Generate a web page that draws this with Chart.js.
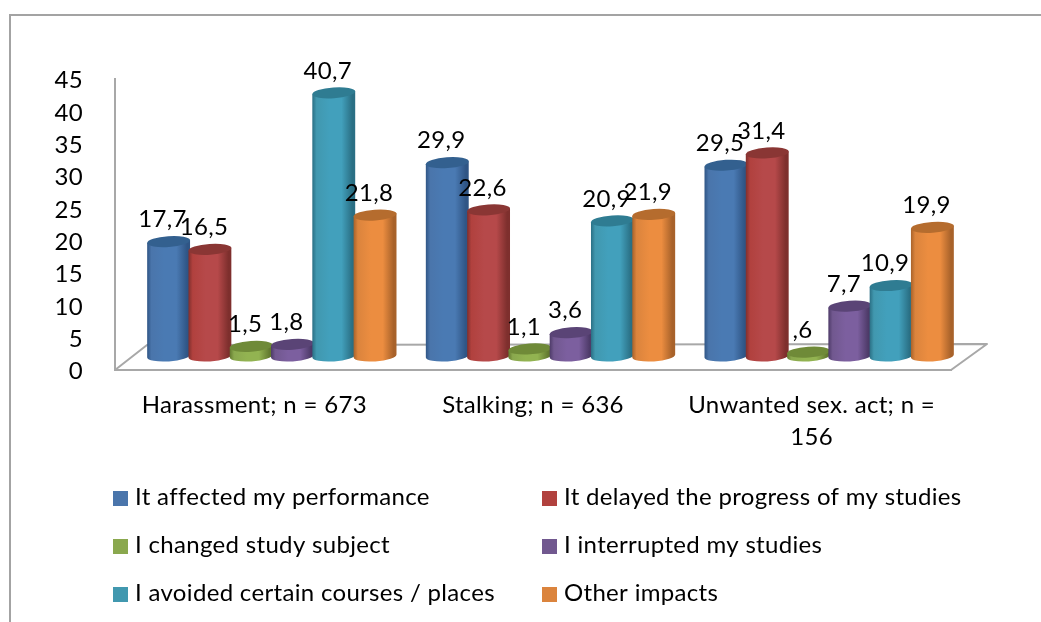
<!DOCTYPE html>
<html>
<head>
<meta charset="utf-8">
<style>html,body{margin:0;padding:0;background:#fff;overflow:hidden}canvas{display:block}</style>
<script src="https://cdn.jsdelivr.net/npm/chart.js@4"></script>
</head>
<body>
<canvas id="c" width="1041" height="622"></canvas>
<script>
const categories = ["Harassment; n = 673", "Stalking; n = 636", ["Unwanted sex. act; n =", "156"]];
const seriesNames = ["It affected my performance", "It delayed the progress of my studies", "I changed study subject", "I interrupted my studies", "I avoided certain courses / places", "Other impacts"];
const affected = [17.7, 29.9, 29.5];
const delayed = [16.5, 22.6, 31.4];
const changed = [1.5, 1.1, 0.6];
const interrupted = [1.8, 3.6, 7.7];
const avoided = [40.7, 20.9, 10.9];
const other = [21.8, 21.9, 19.9];
const seriesValues = [affected, delayed, changed, interrupted, avoided, other];
const legendColors = ["#4A75AB", "#B1413E", "#8AA84E", "#71588F", "#4198AF", "#DB843D"];
const edgeColors = ["#2F5585", "#7E2F2D", "#62792F", "#4D3A68", "#2A6F84", "#A8622A"];
const midColors = ["#4A7AB3", "#B6494A", "#92B351", "#7C5F9F", "#42A0BC", "#EC8D40"];
const topColors = ["#33608F", "#8A3634", "#6F8A38", "#5A4476", "#2F7C92", "#B56C2E"];

const FONT = 'Lato, Carlito, sans-serif';
const FS = 24;
const DX = 17.5, DY = 14, RY = 5.4, TILT = -0.07;

function drawCylinders(chart, i) {
  const {ctx} = chart;
  chart.getDatasetMeta(i).data.forEach(el => {
    const p = el.getProps(['x', 'y', 'base', 'width'], true);
    const cx = p.x + DX, w = p.width + 1.7, rx = w / 2;
    const top = p.y - DY, bot = p.base - DY;
    ctx.save();
    const g = ctx.createLinearGradient(cx - rx, 0, cx + rx, 0);
    g.addColorStop(0, edgeColors[i]);
    g.addColorStop(0.1, legendColors[i]);
    g.addColorStop(0.4, midColors[i]);
    g.addColorStop(0.68, midColors[i]);
    g.addColorStop(0.93, edgeColors[i]);
    g.addColorStop(1, edgeColors[i]);
    const s = Math.sin(TILT), c = Math.cos(TILT);
    ctx.fillStyle = g;
    ctx.beginPath();
    ctx.moveTo(cx - rx * c, top - rx * s);
    ctx.lineTo(cx - rx * c, bot - rx * s);
    ctx.ellipse(cx, bot, rx, RY, TILT, Math.PI, 0, true);
    ctx.lineTo(cx + rx * c, top + rx * s);
    ctx.closePath();
    ctx.fill();
    ctx.fillStyle = topColors[i];
    ctx.beginPath();
    ctx.ellipse(cx, top, rx, RY, TILT, 0, Math.PI * 2);
    ctx.fill();
    ctx.restore();
  });
}

const cylinders = {
  id: 'cylinders',
  beforeDraw(chart) {
    const {ctx} = chart;
    ctx.letterSpacing = '0.32px';
    chart.scales.y.getLabelItems().forEach(it => { it.options.translation[1] += 1.5; });
    ctx.save();
    ctx.strokeStyle = '#A3A3A3'; ctx.lineWidth = 2;
    ctx.beginPath(); ctx.moveTo(10, 622); ctx.lineTo(10, 15); ctx.lineTo(1041, 15); ctx.stroke();
    ctx.restore();
  },
  beforeDatasetsDraw(chart) {
    const {ctx, chartArea: a} = chart;
    ctx.save();
    ctx.strokeStyle = '#A8A8A8'; ctx.lineWidth = 2; ctx.lineJoin = 'round';
    ctx.beginPath();
    ctx.moveTo(a.left, a.bottom);
    ctx.lineTo(a.left + 32, a.bottom - 25);
    ctx.lineTo(a.right + 36, a.bottom - 26);
    ctx.lineTo(a.right, a.bottom);
    ctx.stroke();
    ctx.restore();
    seriesValues.forEach((_, i) => drawCylinders(chart, i));
  },
  beforeDatasetDraw() { return false; },
  afterDatasetsDraw(chart) {
    const {ctx} = chart;
    ctx.save();
    ctx.fillStyle = '#000';
    ctx.font = FS + 'px ' + FONT;
    ctx.textAlign = 'center';
    ctx.textBaseline = 'middle';
    seriesValues.forEach((vals, i) => {
      const meta = chart.getDatasetMeta(i);
      meta.data.forEach((el, k) => {
        const txt = String(vals[k]).replace('.', ',').replace(/^0,/, ',');
        ctx.fillText(txt, el.x + DX - 6, el.y - DY - 22);
      });
    });
    const cols = [113, 542], rows = [498, 546, 594];
    ctx.textAlign = 'left';
    seriesNames.forEach((n, i) => {
      const x = cols[i % 2], y = rows[Math.floor(i / 2)];
      ctx.fillStyle = legendColors[i];
      ctx.fillRect(x, y - 7, 15, 15);
      ctx.fillStyle = '#000';
      ctx.fillText(n, x + 22, y - 1);
    });
    ctx.restore();
  }
};

new Chart(document.getElementById('c'), {
  type: 'bar',
  data: {
    labels: categories,
    datasets: seriesValues.map((d, i) => ({
      label: seriesNames[i],
      data: d,
      backgroundColor: legendColors[i]
    }))
  },
  options: {
    responsive: false,
    animation: false,
    events: [],
    layout: {padding: {left: 0, right: 90, top: 79, bottom: 0}},
    plugins: {legend: {display: false}, title: {display: false}, tooltip: {enabled: false}},
    datasets: {bar: {barPercentage: 1, categoryPercentage: 0.889}},
    scales: {
      x: {
        grid: {display: false},
        border: {color: '#A8A8A8', width: 2},
        ticks: {color: '#000', font: {family: FONT, size: FS, lineHeight: 1.35}, padding: 11, maxRotation: 0, autoSkip: false},
        afterFit(s) { s.height = 252; }
      },
      y: {
        min: 0, max: 45,
        grid: {display: false},
        border: {color: '#A8A8A8', width: 2},
        ticks: {color: '#000', stepSize: 5, font: {family: FONT, size: FS}, padding: 24},
        afterFit(s) { s.width = 115; }
      }
    }
  },
  plugins: [cylinders]
});
</script>
</body>
</html>
